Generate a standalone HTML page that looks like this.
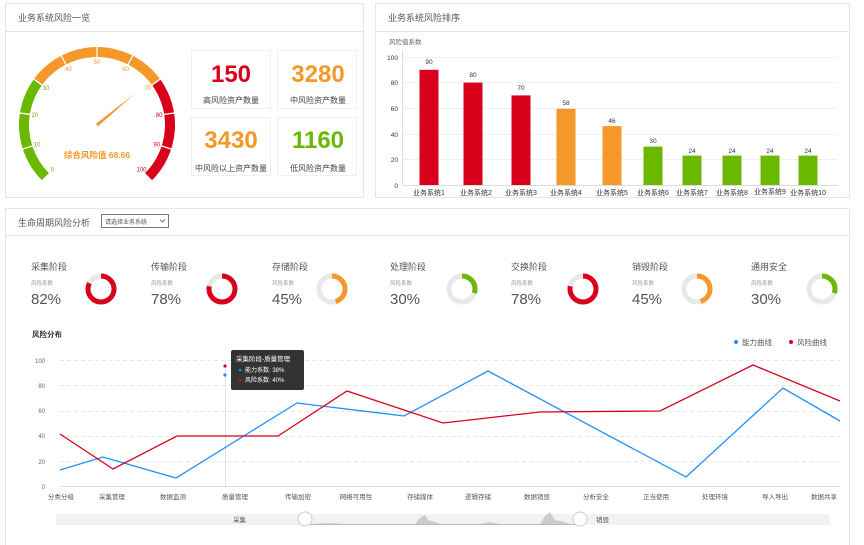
<!DOCTYPE html>
<html><head><meta charset="utf-8"><style>
html,body{margin:0;padding:0;background:#fff;}
svg{display:block;font-family:"Liberation Sans","Noto Sans CJK SC",sans-serif;}
</style></head><body>
<svg width="864" height="545" viewBox="0 0 864 545" xmlns="http://www.w3.org/2000/svg">
<rect width="864" height="545" fill="#fff"/>
<!-- panels -->
<rect x="5.5" y="3.5" width="358" height="194" fill="#fff" stroke="#e6e6e6"/>
<line x1="6" y1="31.5" x2="363" y2="31.5" stroke="#e3e3e3"/>
<text x="18" y="21" font-size="9" fill="#555">业务系统风险一览</text>
<rect x="375.5" y="3.5" width="474" height="194" fill="#fff" stroke="#e6e6e6"/>
<line x1="376" y1="31.5" x2="849" y2="31.5" stroke="#e3e3e3"/>
<text x="388" y="21" font-size="9" fill="#555">业务系统风险排序</text>
<rect x="5.5" y="208.5" width="844" height="340" fill="#fff" stroke="#e6e6e6"/>
<line x1="6" y1="235.5" x2="849" y2="235.5" stroke="#e3e3e3"/>
<text x="18" y="226" font-size="9" fill="#555">生命周期风险分析</text>
<rect x="101.5" y="214.5" width="67" height="13" fill="#fff" stroke="#777"/>
<text x="105" y="224" font-size="6" fill="#555">请选择业务系统</text>
<path d="M160 219.5 L162.5 222 L165 219.5" fill="none" stroke="#555" stroke-width="0.8"/>

<!-- gauge -->
<g fill="none" stroke-width="10">
<circle cx="97" cy="125" r="73" stroke="#6bb800" stroke-dasharray="103.2 1000" transform="rotate(135 97 125)"/>
<circle cx="97" cy="125" r="73" stroke="#f4982a" stroke-dasharray="137.6 1000" transform="rotate(216 97 125)"/>
<circle cx="97" cy="125" r="73" stroke="#d9001b" stroke-dasharray="103.2 1000" transform="rotate(324 97 125)"/>
</g>
<g stroke="#fff" stroke-width="1.3">
<line x1="46.4" y1="141.4" x2="22.2" y2="149.3"/>
<line x1="43.6" y1="116.5" x2="18.6" y2="112.8"/>
<line x1="54.0" y1="93.8" x2="33.9" y2="79.2"/>
<line x1="72.3" y1="76.5" x2="60.6" y2="54.5"/>
<line x1="97" y1="71" x2="97" y2="46"/>
<line x1="121.7" y1="76.5" x2="133.4" y2="54.5"/>
<line x1="140.0" y1="93.8" x2="160.1" y2="79.2"/>
<line x1="150.4" y1="116.5" x2="175.4" y2="112.8"/>
<line x1="147.6" y1="141.4" x2="171.8" y2="149.3"/>
</g>
<g font-size="6" text-anchor="middle">
<text x="52.5" y="171.5" fill="#6bb800">0</text>
<text x="37.1" y="146.5" fill="#6bb800">10</text>
<text x="34.8" y="117" fill="#6bb800">20</text>
<text x="46" y="90" fill="#6bb800">30</text>
<text x="68.4" y="71" fill="#f4982a">40</text>
<text x="97" y="64" fill="#f4982a">50</text>
<text x="125.6" y="71" fill="#f4982a">60</text>
<text x="148" y="90" fill="#f4982a">70</text>
<text x="159.2" y="117" fill="#d9001b">80</text>
<text x="156.9" y="146.5" fill="#d9001b">90</text>
<text x="141.5" y="171.5" fill="#d9001b">100</text>
</g>
<polygon points="98,126.2 96,123.8 135.5,93" fill="#f4982a"/>
<text x="97" y="158" font-size="8.5" font-weight="bold" fill="#f4982a" text-anchor="middle">综合风险值 68.66</text>

<!-- cards -->
<g fill="#fff" stroke="#f0f0f0">
<rect x="191.5" y="50.5" width="79" height="58"/>
<rect x="277.5" y="50.5" width="79" height="58"/>
<rect x="191.5" y="117.5" width="79" height="58"/>
<rect x="277.5" y="117.5" width="79" height="58"/>
</g>
<g font-size="24" font-weight="bold" text-anchor="middle">
<text x="231" y="82" fill="#d9001b">150</text>
<text x="318" y="82" fill="#f4982a">3280</text>
<text x="231" y="148" fill="#f4982a">3430</text>
<text x="318" y="148" fill="#6bb800">1160</text>
</g>
<g font-size="8" fill="#444" text-anchor="middle">
<text x="231" y="103">高风险资产数量</text>
<text x="318" y="103">中风险资产数量</text>
<text x="231" y="171">中风险以上资产数量</text>
<text x="318" y="171">低风险资产数量</text>
</g>

<!-- bar chart -->
<text x="389" y="44" font-size="6.5" fill="#666">风险值系数</text>
<g stroke="#f0f0f0">
<line x1="403" y1="57.5" x2="837" y2="57.5"/>
<line x1="403" y1="82.5" x2="837" y2="82.5"/>
<line x1="403" y1="108.5" x2="837" y2="108.5"/>
<line x1="403" y1="134.5" x2="837" y2="134.5"/>
<line x1="403" y1="159.5" x2="837" y2="159.5"/>
</g>
<line x1="403" y1="185.5" x2="838" y2="185.5" stroke="#ddd"/>
<line x1="402.5" y1="50" x2="402.5" y2="185" stroke="#ddd"/>
<g font-size="6.5" fill="#333" text-anchor="end">
<text x="398" y="60">100</text><text x="398" y="85">80</text><text x="398" y="111">60</text>
<text x="398" y="137">40</text><text x="398" y="162">20</text><text x="398" y="188">0</text>
</g>
<g>
<rect x="419.5" y="69.8" width="19" height="115.2" fill="#d9001b"/>
<rect x="463.5" y="82.6" width="19" height="102.4" fill="#d9001b"/>
<rect x="511.5" y="95.4" width="19" height="89.6" fill="#d9001b"/>
<rect x="556.5" y="108.8" width="19" height="76.2" fill="#f4982a"/>
<rect x="602.5" y="126.1" width="19" height="58.9" fill="#f4982a"/>
<rect x="643.5" y="146.6" width="19" height="38.4" fill="#6bb800"/>
<rect x="682.5" y="155.6" width="19" height="29.4" fill="#6bb800"/>
<rect x="722.5" y="155.6" width="19" height="29.4" fill="#6bb800"/>
<rect x="760.5" y="155.6" width="19" height="29.4" fill="#6bb800"/>
<rect x="798.5" y="155.6" width="19" height="29.4" fill="#6bb800"/>
</g>
<g font-size="6.5" fill="#333" text-anchor="middle">
<text x="429" y="64">90</text><text x="473" y="77">80</text><text x="521" y="90">70</text>
<text x="566" y="105">58</text><text x="612" y="123">46</text><text x="653" y="143">30</text>
<text x="692" y="153">24</text><text x="732" y="153">24</text><text x="770" y="153">24</text><text x="808" y="153">24</text>
</g>
<g font-size="7" fill="#333" text-anchor="middle">
<text x="429" y="195">业务系统1</text><text x="476" y="195">业务系统2</text><text x="521" y="195">业务系统3</text>
<text x="566" y="195">业务系统4</text><text x="612" y="195">业务系统5</text><text x="653" y="195">业务系统6</text>
<text x="692" y="195">业务系统7</text><text x="732" y="195">业务系统8</text><text x="770" y="194">业务系统9</text><text x="808" y="195">业务系统10</text>
</g>

<!-- lifecycle stages -->
<g font-size="9" fill="#555">
<text x="31" y="270">采集阶段</text><text x="151" y="270">传输阶段</text><text x="272" y="270">存储阶段</text>
<text x="390" y="270">处理阶段</text><text x="511" y="270">交换阶段</text><text x="632" y="270">销毁阶段</text><text x="751" y="270">通用安全</text>
</g>
<g font-size="5.5" fill="#999">
<text x="31" y="285">风险系数</text><text x="151" y="285">风险系数</text><text x="272" y="285">风险系数</text>
<text x="390" y="285">风险系数</text><text x="511" y="285">风险系数</text><text x="632" y="285">风险系数</text><text x="751" y="285">风险系数</text>
</g>
<g font-size="15" fill="#555">
<text x="31" y="304">82%</text><text x="151" y="304">78%</text><text x="272" y="304">45%</text>
<text x="390" y="304">30%</text><text x="511" y="304">78%</text><text x="632" y="304">45%</text><text x="751" y="304">30%</text>
</g>
<g fill="none" stroke-width="5">
<circle cx="101" cy="289" r="13" stroke="#e8e8e8"/>
<circle cx="101" cy="289" r="13" stroke="#d9001b" stroke-dasharray="67 200" transform="rotate(-90 101 289)"/>
<circle cx="222" cy="289" r="13" stroke="#e8e8e8"/>
<circle cx="222" cy="289" r="13" stroke="#d9001b" stroke-dasharray="63.7 200" transform="rotate(-90 222 289)"/>
<circle cx="332" cy="289" r="13" stroke="#e8e8e8"/>
<circle cx="332" cy="289" r="13" stroke="#f4982a" stroke-dasharray="36.8 200" transform="rotate(-90 332 289)"/>
<circle cx="462" cy="289" r="13" stroke="#e8e8e8"/>
<circle cx="462" cy="289" r="13" stroke="#6bb800" stroke-dasharray="24.5 200" transform="rotate(-90 462 289)"/>
<circle cx="583" cy="289" r="13" stroke="#e8e8e8"/>
<circle cx="583" cy="289" r="13" stroke="#d9001b" stroke-dasharray="63.7 200" transform="rotate(-90 583 289)"/>
<circle cx="697" cy="289" r="13" stroke="#e8e8e8"/>
<circle cx="697" cy="289" r="13" stroke="#f4982a" stroke-dasharray="36.8 200" transform="rotate(-90 697 289)"/>
<circle cx="822" cy="289" r="13" stroke="#e8e8e8"/>
<circle cx="822" cy="289" r="13" stroke="#6bb800" stroke-dasharray="24.5 200" transform="rotate(-90 822 289)"/>
</g>

<!-- line chart -->
<text x="32" y="337" font-size="7.5" font-weight="bold" fill="#333">风险分布</text>
<circle cx="736" cy="342" r="2" fill="#1e90ff"/><text x="742" y="345" font-size="7.5" fill="#555">能力曲线</text>
<circle cx="791" cy="342" r="2" fill="#d9001b"/><text x="797" y="345" font-size="7.5" fill="#555">风险曲线</text>
<g stroke="#e6e6e6" stroke-dasharray="4 3">
<line x1="60" y1="360.5" x2="840" y2="360.5"/>
<line x1="60" y1="385.5" x2="840" y2="385.5"/>
<line x1="60" y1="411.5" x2="840" y2="411.5"/>
<line x1="60" y1="436.5" x2="840" y2="436.5"/>
<line x1="60" y1="461.5" x2="840" y2="461.5"/>
</g>
<line x1="60" y1="486.5" x2="840" y2="486.5" stroke="#ddd"/>
<g font-size="6" fill="#666" text-anchor="end">
<text x="45" y="363">100</text><text x="45" y="388">80</text><text x="45" y="413">60</text>
<text x="45" y="438">40</text><text x="45" y="464">20</text><text x="45" y="489">0</text>
</g>
<g font-size="6.5" fill="#555" text-anchor="middle">
<text x="61" y="499">分类分级</text><text x="112" y="499">采集管理</text><text x="173" y="499">数据监测</text>
<text x="235" y="499">质量管理</text><text x="298" y="499">传输加密</text><text x="356" y="499">网络可用性</text>
<text x="420" y="499">存储媒体</text><text x="478" y="499">逻辑存储</text><text x="537" y="499">数据销毁</text>
<text x="596" y="499">分析安全</text><text x="656" y="499">正当使用</text><text x="715" y="499">处理环境</text>
<text x="775" y="499">导入导出</text><text x="824" y="499">数据共享</text>
</g>
<line x1="225.5" y1="360" x2="225.5" y2="486" stroke="#e3e3e3"/>
<polyline fill="none" stroke="#1e90ff" stroke-width="1.3" points="60,470 103,457 176,478 297,403 404,416 488,371 686,477 783,388 840,421"/>
<polyline fill="none" stroke="#d9001b" stroke-width="1.3" points="60,434 113,469 177,436 278,436 347,391 443,423 540,412 660,411 753,365 840,401"/>
<circle cx="225" cy="366" r="1.6" fill="#d9001b"/>
<circle cx="225" cy="375" r="1.6" fill="#1e90ff"/>
<rect x="231" y="350" width="73" height="40" rx="2" fill="#333"/>
<text x="236" y="361" font-size="6.5" fill="#fff">采集阶段-质量管理</text>
<circle cx="240" cy="370" r="1.3" fill="#1e90ff"/><text x="245" y="372" font-size="6" fill="#fff">能力系数: 38%</text>
<circle cx="240" cy="380" r="1.3" fill="#d9001b"/><text x="245" y="382" font-size="6" fill="#fff">风险系数: 40%</text>

<!-- slider -->
<rect x="56" y="514" width="774" height="11" fill="#f2f2f2"/>
<path d="M310 524 L330 523 L345 524 L415 524 L420 518 L425 515 L428 520 L435 522 L440 524 L480 524 L490 522 L500 524 L540 524 L545 516 L550 512 L555 520 L565 522 L570 524 L578 524 Z" fill="#ccc"/>
<line x1="305" y1="524.5" x2="580" y2="524.5" stroke="#bbb"/>
<text x="233" y="522" font-size="6.5" fill="#555">采集</text>
<text x="596" y="522" font-size="6.5" fill="#555">销毁</text>
<circle cx="305" cy="519" r="7" fill="#fff" stroke="#ccc"/>
<circle cx="580" cy="519" r="7" fill="#fff" stroke="#ccc"/>
</svg>
</body></html>
